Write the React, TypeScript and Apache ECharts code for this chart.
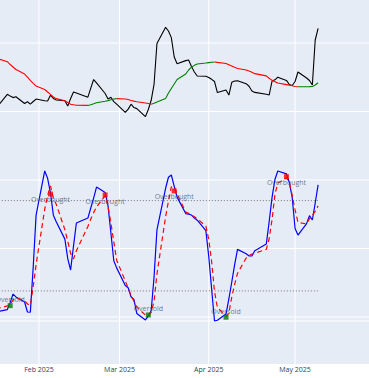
import React, { useEffect, useRef } from "react";
import * as echarts from "echarts";

const dates = [
  "2025-01-17", "2025-01-21", "2025-01-22", "2025-01-23", "2025-01-24",
  "2025-01-27", "2025-01-28", "2025-01-29", "2025-01-30", "2025-01-31",
  "2025-02-03", "2025-02-04", "2025-02-05", "2025-02-06", "2025-02-07",
  "2025-02-10", "2025-02-11", "2025-02-12", "2025-02-13", "2025-02-14",
  "2025-02-18", "2025-02-19", "2025-02-20", "2025-02-21",
  "2025-02-24", "2025-02-25", "2025-02-26", "2025-02-27", "2025-02-28",
  "2025-03-03", "2025-03-04", "2025-03-05", "2025-03-06", "2025-03-07",
  "2025-03-10", "2025-03-11", "2025-03-12", "2025-03-13", "2025-03-14",
  "2025-03-17", "2025-03-18", "2025-03-19", "2025-03-20", "2025-03-21",
  "2025-03-24", "2025-03-25", "2025-03-26", "2025-03-27", "2025-03-28",
  "2025-03-31", "2025-04-01", "2025-04-02", "2025-04-03", "2025-04-04",
  "2025-04-07", "2025-04-08", "2025-04-09", "2025-04-10", "2025-04-11",
  "2025-04-14", "2025-04-15", "2025-04-16", "2025-04-17",
  "2025-04-21", "2025-04-22", "2025-04-23", "2025-04-24", "2025-04-25",
  "2025-04-28", "2025-04-29", "2025-04-30", "2025-05-01", "2025-05-02",
  "2025-05-05", "2025-05-06", "2025-05-07", "2025-05-08", "2025-05-09",
];

const price = [
  50.42, 52.51, 52.25, 52.03, 52.16, 51.17, 51.42, 51.07, 51.46, 51.82,
  51.58, 51.53, 52.38, 51.9, 51.68, 51.58, 50.8, 51.9, 52.85, 52.7,
  52.09, 53.42, 54.67, 54.18, 52.63, 51.82, 52.09, 51.45, 51.07,
  49.88, 50.35, 51.07, 50.58, 50.42, 49.26, 50.29, 51.64, 54.01, 59.93,
  62.29, 61.75, 60.79, 57.96, 56.98, 57.43, 57.52, 56.57, 55.77, 55.18,
  55.15, 54.96, 54.7, 54.38, 52.77, 53.14, 52.41, 54.26, 54.45, 54.5,
  54.06, 53.69, 52.99, 52.79, 52.51, 52.41, 54.45, 54.63, 55.01,
  54.54, 53.94, 53.8, 54.38, 55.77, 54.89, 54.53, 53.87, 60.44, 62.15,
];

const movingAverage = [
  57.82, 57.27, 56.86, 56.5, 56.13, 55.47, 55.01, 54.54, 54.12, 53.72,
  53.21, 52.85, 52.5, 52.12, 51.88, 51.56, 51.33, 51.07, 50.99, 50.92,
  50.89, 50.98, 51.12, 51.28, 51.49, 51.59, 51.71, 51.82, 51.88,
  51.82, 51.75, 51.62, 51.52, 51.43, 51.24, 51.17, 51.07, 51.2, 51.39,
  51.9, 52.7, 53.36, 54.01, 54.67, 55.47, 56.06, 56.47, 56.74, 56.93,
  57.08, 57.14, 57.2, 57.23, 57.17, 57.02, 56.83, 56.64, 56.45, 56.29,
  56.07, 55.91, 55.72, 55.53, 55.2, 54.85, 54.55, 54.36, 54.16,
  53.93, 53.85, 53.77, 53.66, 53.61, 53.62, 53.63, 53.65, 53.87, 54.2,
];

const stochK = [
  6.0, 7.6, 12.2, 17.9, 16.0, 12.6, 6.0, 5.8, 35.9, 70.4,
  99.7, 94.8, 85.2, 70.3, 66.0, 54.4, 41.4, 33.9, 49.8, 65.1,
  68.4, 75.1, 81.7, 89.0, 85.4, 76.5, 58.5, 40.0, 35.3,
  23.6, 22.1, 16.1, 14.3, 5.0, 0.7, 3.4, 6.8, 29.4, 60.6,
  88.2, 95.5, 97.0, 89.4, 82.3, 71.4, 71.0, 70.4, 68.4, 67.0,
  60.0, 42.9, 21.3, 0.0, 0.5, 4.6, 14.8, 25.9, 37.5, 47.6,
  44.7, 43.2, 43.2, 46.7, 51.1, 66.1, 82.1, 94.0, 99.7,
  97.8, 92.1, 82.1, 61.5, 57.1, 64.7, 70.0, 67.1, 78.4, 90.4,
];

const stochD = [
  8.0, 10.0, 11.0, 14.0, 15.3, 13.6, 11.3, 10.3, 22.9, 37.5,
  74.3, 83.5, 89.8, 81.7, 77.6, 60.7, 53.0, 45.0, 41.2, 46.7,
  62.8, 67.7, 72.0, 75.8, 83.3, 76.1, 65.0, 52.6, 40.4,
  26.6, 21.8, 16.9, 13.1, 9.2, 3.9, 3.3, 5.7, 13.2, 31.3,
  69.2, 79.7, 89.1, 89.3, 84.5, 72.4, 71.5, 70.6, 69.3, 67.9,
  63.1, 54.2, 39.5, 19.5, 9.0, 3.2, 5.2, 15.9, 24.4, 31.7,
  41.9, 43.5, 44.5, 45.0, 47.6, 54.8, 67.5, 84.2, 91.6,
  95.2, 92.0, 83.5, 73.8, 65.6, 64.5, 68.0, 70.3, 72.8, 76.5,
];

const overboughtDates = ["2025-02-05", "2025-02-24", "2025-03-20", "2025-04-28"];
const overboughtValues = [84.4, 83.7, 86.4, 95.9];
const oversoldDates = ["2025-01-22", "2025-03-11", "2025-04-07"];
const oversoldValues = [10.2, 4.0, 2.5];

const levelValues = [80, 20];
const priceGridValues = [20, 30, 40, 50, 60];
const stochGridValues = [0];
const monthTicks = ["2025-02-01", "2025-03-01", "2025-04-01", "2025-05-01"];
const monthTickLabels = ["Feb 2025", "Mar 2025", "Apr 2025", "May 2025"];

const parseLocal = (s: string) => {
  const [y, m, d] = s.split("-").map(Number);
  return new Date(y, m - 1, d).getTime();
};

export default function App() {
  const ref = useRef<HTMLDivElement>(null);

  useEffect(() => {
    document.body.style.margin = "0";
    if (!ref.current) return;
    const chart = echarts.init(ref.current, null, { renderer: "svg" });

    const xMin = new Date(2025, 0, 18, 11, 0).getTime();
    const xMax = new Date(2025, 4, 26, 16, 30).getTime();
    const priceMin = 13.14;
    const priceMax = 66.28;
    const stochMin = -28.57;
    const stochMax = 213.29;

    const t = dates.map(parseLocal);
    const tickTimes = monthTicks.map(parseLocal);
    const font = '"Open Sans", verdana, arial, sans-serif';

    const gridLine = (yAxisIndex: number, data: number[][]) => ({
      type: "line",
      yAxisIndex,
      data,
      showSymbol: false,
      lineStyle: { color: "#ffffff", width: 1 },
      z: 1,
      silent: true,
    });

    const gridSeries: any[] = [
      ...priceGridValues.map((v) => gridLine(0, [[xMin, v], [xMax, v]])),
      ...stochGridValues.map((v) => gridLine(1, [[xMin, v], [xMax, v]])),
      ...tickTimes.map((tt) => gridLine(0, [[tt, priceMin], [tt, priceMax]])),
    ];

    const levelSeries = levelValues.map((v) => ({
      type: "line",
      yAxisIndex: 1,
      data: [[t[0], v], [t[t.length - 1], v]],
      showSymbol: false,
      lineStyle: { color: "#8a8a8a", width: 1, type: [1.2, 1.8] },
      z: 2,
    }));

    // MA colored by direction: green rising, red falling
    const up: boolean[] = [];
    for (let i = 0; i < movingAverage.length - 1; i++) {
      up.push(movingAverage[i + 1] > movingAverage[i]);
    }
    const maUp = t.map((d, i) => {
      const inc = (i > 0 && up[i - 1]) || (i < up.length && up[i]);
      return [d, inc ? movingAverage[i] : "-"];
    });
    const maDown = t.map((d, i) => {
      const inc = (i > 0 && !up[i - 1]) || (i < up.length && !up[i]);
      return [d, inc ? movingAverage[i] : "-"];
    });

    const option: any = {
      animation: false,
      backgroundColor: "#ffffff",
      grid: {
        left: 0,
        right: 0,
        top: 0,
        bottom: 14,
        show: true,
        backgroundColor: "#e5ecf6",
        borderWidth: 0,
        containLabel: false,
      },
      xAxis: {
        type: "value",
        min: xMin,
        max: xMax,
        axisLine: { show: false },
        axisTick: { show: false },
        splitLine: { show: false },
        axisLabel: {
          customValues: tickTimes,
          formatter: (val: number) => {
            const idx = tickTimes.indexOf(val);
            return idx >= 0 ? monthTickLabels[idx] : "";
          },
          fontSize: 7,
          color: "#2a3f5f",
          fontFamily: font,
          margin: 2,
          hideOverlap: false,
        },
      },
      yAxis: [
        { type: "value", min: priceMin, max: priceMax, show: false, splitLine: { show: false } },
        { type: "value", min: stochMin, max: stochMax, show: false, splitLine: { show: false } },
      ],
      series: [
        ...gridSeries,
        ...levelSeries,
        {
          type: "line",
          yAxisIndex: 0,
          data: t.map((d, i) => [d, price[i]]),
          showSymbol: false,
          lineStyle: { color: "#000000", width: 1.1 },
          z: 3,
        },
        {
          type: "line",
          yAxisIndex: 0,
          data: maDown,
          showSymbol: false,
          connectNulls: false,
          lineStyle: { color: "#ff0000", width: 1.1 },
          z: 3,
        },
        {
          type: "line",
          yAxisIndex: 0,
          data: maUp,
          showSymbol: false,
          connectNulls: false,
          lineStyle: { color: "#008000", width: 1.1 },
          z: 3,
        },
        {
          type: "line",
          yAxisIndex: 1,
          data: t.map((d, i) => [d, stochK[i]]),
          showSymbol: false,
          lineStyle: { color: "#0000ff", width: 1.2 },
          z: 3,
        },
        {
          type: "line",
          yAxisIndex: 1,
          data: t.map((d, i) => [d, stochD[i]]),
          showSymbol: false,
          lineStyle: { color: "#ff0000", width: 1.2, type: [5, 3.5] },
          z: 4,
        },
        {
          type: "scatter",
          yAxisIndex: 1,
          data: overboughtDates.map((d, i) => [parseLocal(d), overboughtValues[i]]),
          symbol: "rect",
          symbolSize: 5,
          itemStyle: { color: "#ff0000" },
          label: {
            show: true,
            formatter: "Overbought",
            position: "bottom",
            distance: 0,
            fontSize: 7,
            color: "#4a5870",
            fontFamily: font,
          },
          z: 5,
        },
        {
          type: "scatter",
          yAxisIndex: 1,
          data: oversoldDates.map((d, i) => [parseLocal(d), oversoldValues[i]]),
          symbol: "rect",
          symbolSize: 5,
          itemStyle: { color: "#008000" },
          label: {
            show: true,
            formatter: "Oversold",
            position: "top",
            distance: 0,
            fontSize: 7,
            color: "#4a5870",
            fontFamily: font,
          },
          z: 5,
        },
      ],
    };

    chart.setOption(option);
    return () => chart.dispose();
  }, []);

  return (
    <div
      ref={ref}
      style={{ position: "absolute", left: 0, top: 0, width: 369, height: 378 }}
    />
  );
}
